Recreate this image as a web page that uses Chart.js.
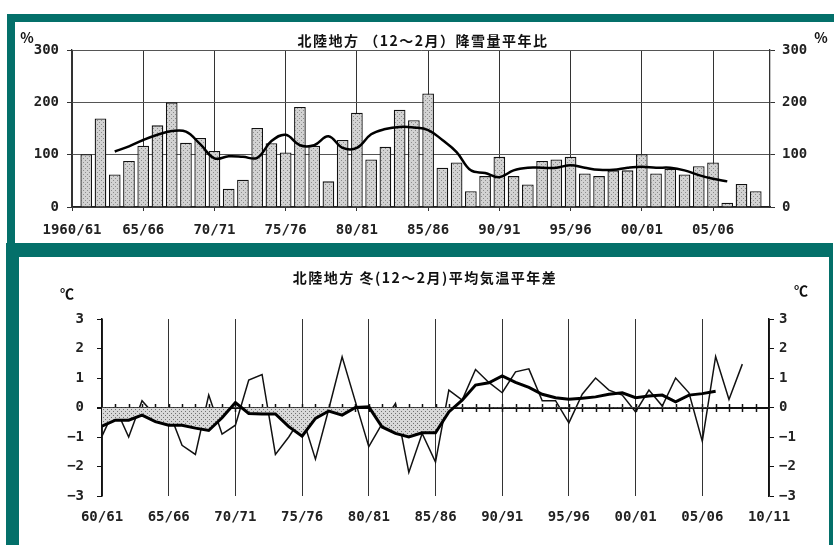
<!DOCTYPE html>
<html lang="ja">
<head>
<meta charset="utf-8">
<title>北陸地方 降雪量平年比・冬平均気温平年差</title>
<script src="https://cdn.jsdelivr.net/npm/chart.js@4.4.1/dist/chart.umd.min.js"></script>
<style>
  html, body { margin: 0; padding: 0; background: #fff; }
  body { width: 834px; height: 545px; position: relative; overflow: hidden; }
  .band { position: absolute; background: #04706a; }
  canvas { position: absolute; }
</style>
</head>
<body>
<div class="band" style="left:7px;top:14px;width:827px;height:8px"></div>
<div class="band" style="left:7px;top:14px;width:8px;height:243px"></div>
<div class="band" style="left:6px;top:243px;width:827px;height:14px"></div>
<div class="band" style="left:6px;top:243px;width:13px;height:302px"></div>
<div class="band" style="left:829px;top:243px;width:4px;height:302px"></div>
<canvas id="snowChart" width="819" height="221" style="left:15px;top:22px"></canvas>
<canvas id="tempChart" width="810" height="288" style="left:19px;top:257px"></canvas>
<script>
// 降雪量平年比 (%), 1961/62 冬から
const snowFirstYear = 1961;
const snowRatio = [101, 169, 62, 88, 117, 156, 200, 123, 132, 107,
  35, 52, 151, 122, 104, 191, 117, 49, 128, 180,
  91, 115, 186, 166, 217, 75, 85, 30, 59, 96,
  59, 43, 88, 91, 96, 64, 59, 70, 70, 101,
  64, 73, 62, 78, 85, 8, 44, 30];
// 5年移動平均
const snowAvgFirstYear = 1963;
const snowAvg = [106, 116, 128, 138, 145, 144, 120, 93, 97, 96,
  94, 126, 138, 118, 118, 135, 113, 113, 139, 149,
  153, 152, 147, 128, 105, 70, 65, 57, 70, 75,
  75, 75, 80, 75, 71, 71, 75, 77, 75, 75,
  70, 61, 54, 49];
const snowAxisFrom = 1960;
const snowAxisTo = 2009;
const snowTickLabels = ['1960/61', '65/66', '70/71', '75/76', '80/81', '85/86', '90/91', '95/96', '00/01', '05/06'];

// 冬平均気温平年差 (℃), 1960/61 冬から
const tempFirstYear = 1960;
const tempDiff = [-0.97, 0.0, -1.0, 0.23, -0.28, -0.11, -1.28, -1.59, 0.42, -0.9,
  -0.6, 0.93, 1.12, -1.59, -1.0, -0.3, -1.75, -0.05, 1.72, 0.19,
  -1.33, -0.55, 0.14, -2.2, -0.88, -1.85, 0.59, 0.25, 1.29, 0.85,
  0.5, 1.21, 1.31, 0.23, 0.23, -0.52, 0.45, 1.0, 0.59, 0.42,
  -0.15, 0.59, 0.05, 1.0, 0.5, -1.14, 1.73, 0.27, 1.47];
// 5年移動平均
const tempAvg = [-0.63, -0.43, -0.43, -0.26, -0.48, -0.6, -0.6, -0.7, -0.78, -0.35,
  0.17, -0.2, -0.22, -0.22, -0.65, -0.97, -0.37, -0.12, -0.26, 0.0,
  0.02, -0.66, -0.88, -1.0, -0.86, -0.86, -0.15, 0.25, 0.76, 0.84,
  1.07, 0.85, 0.68, 0.45, 0.33, 0.28, 0.31, 0.36, 0.45, 0.5,
  0.33, 0.39, 0.42, 0.19, 0.42, 0.47, 0.55];
const tempAxisFrom = 1960;
const tempAxisTo = 2010;
const tempTickLabels = ['60/61', '65/66', '70/71', '75/76', '80/81', '85/86', '90/91', '95/96', '00/01', '05/06', '10/11'];

Chart.defaults.font.family = '"DejaVu Sans Mono", monospace';
Chart.defaults.font.size = 14;
Chart.defaults.font.weight = 'bold';
Chart.defaults.color = '#222';

function toPoints(first, values) {
    return values.map((v, i) => ({ x: first + i, y: v }));
}

// dotted grey fill like the original
function stipple(canvasId, base, dot) {
    const c = document.createElement('canvas');
    c.width = 4;
    c.height = 4;
    const g = c.getContext('2d');
    g.fillStyle = base;
    g.fillRect(0, 0, 4, 4);
    g.fillStyle = dot;
    g.fillRect(0, 0, 1, 1);
    g.fillRect(2, 2, 1, 1);
    return document.getElementById(canvasId).getContext('2d').createPattern(c, 'repeat');
}

const minus = v => (v < 0 ? '\u2212' + Math.abs(v) : String(v));

// titles and unit marks
const captions = {
    id: 'captions',
    afterDraw(chart, args, opts) {
        const ctx = chart.ctx;
        ctx.save();
        ctx.fillStyle = '#111';
        ctx.textAlign = 'center';
        ctx.textBaseline = 'middle';
        opts.items.forEach(t => {
            ctx.font = t.font;
            ctx.letterSpacing = t.spacing || '0px';
            ctx.fillText(t.text, t.x, t.y);
        });
        ctx.restore();
    }
};

// small yearly ticks across the zero line
const yearTicks = {
    id: 'yearTicks',
    beforeDatasetsDraw(chart) {
        const xs = chart.scales.x;
        const y0 = Math.round(chart.scales.y.getPixelForValue(0));
        const ctx = chart.ctx;
        ctx.save();
        ctx.strokeStyle = '#111';
        ctx.lineWidth = 1.5;
        ctx.beginPath();
        for (let yr = tempAxisFrom + 1; yr < tempAxisTo; yr++) {
            const px = Math.round(xs.getPixelForValue(yr)) + 0.5;
            ctx.moveTo(px, y0 - 4);
            ctx.lineTo(px, y0 + 4);
        }
        ctx.stroke();
        ctx.restore();
    }
};

const titleFont = 'bold 14px "Noto Sans CJK JP", sans-serif';
const unitFont = 'bold 14px "Noto Sans CJK JP", sans-serif';

// 降雪量
new Chart(document.getElementById('snowChart'), {
    type: 'bar',
    data: {
        datasets: [
            {
                type: 'line',
                data: toPoints(snowAvgFirstYear, snowAvg),
                borderColor: '#000',
                borderWidth: 2.5,
                tension: 0.4,
                pointRadius: 0,
                fill: false,
                order: 0,
                yAxisID: 'y'
            },
            {
                data: toPoints(snowFirstYear, snowRatio),
                backgroundColor: stipple('snowChart', '#d2d2d2', '#8c8c8c'),
                borderColor: '#111',
                borderWidth: 1.3,
                barPercentage: 0.82,
                categoryPercentage: 1,
                order: 1,
                yAxisID: 'y'
            }
        ]
    },
    options: {
        responsive: false,
        animation: false,
        devicePixelRatio: 1,
        layout: { padding: { top: 28, left: 0, right: 0, bottom: 0 } },
        plugins: {
            legend: { display: false },
            tooltip: { enabled: false },
            captions: {
                items: [
                    { text: '北陸地方 （12～2月）降雪量平年比', x: 408, y: 19, font: titleFont, spacing: '1.5px' },
                    { text: '%', x: 12, y: 16, font: unitFont },
                    { text: '%', x: 806, y: 16, font: unitFont }
                ]
            }
        },
        scales: {
            x: {
                type: 'linear',
                offset: false,
                min: snowAxisFrom,
                max: snowAxisTo,
                afterBuildTicks: scale => {
                    scale.ticks = snowTickLabels.map((_, i) => ({ value: snowAxisFrom + 5 * i }));
                },
                afterFit: scale => { scale.height = 36; },
                grid: { offset: false, color: '#333', lineWidth: 1, tickLength: 4 },
                border: { color: '#222', width: 1.5 },
                ticks: {
                    padding: 11,
                    maxRotation: 0,
                    autoSkip: false,
                    callback: (value, index) => snowTickLabels[index] || ''
                }
            },
            y: {
                position: 'left',
                min: 0,
                max: 300,
                afterFit: scale => { scale.width = 57; },
                grid: { color: '#555', lineWidth: 1, tickLength: 5, tickColor: '#333' },
                border: { color: '#333', width: 1.3 },
                ticks: { stepSize: 100, padding: 8 }
            },
            y2: {
                position: 'right',
                min: 0,
                max: 300,
                afterFit: scale => { scale.width = 64; },
                grid: { drawOnChartArea: false, tickLength: 5, tickColor: '#333' },
                border: { color: '#333', width: 1.3 },
                ticks: { stepSize: 100, padding: 7 }
            }
        }
    },
    plugins: [captions]
});

// 気温
new Chart(document.getElementById('tempChart'), {
    type: 'line',
    data: {
        datasets: [
            {
                data: toPoints(tempFirstYear, tempAvg),
                borderColor: '#000',
                borderWidth: 3,
                tension: 0,
                pointRadius: 0,
                fill: {
                    target: { value: 0 },
                    above: 'rgba(0,0,0,0)',
                    below: stipple('tempChart', '#d8d8d8', '#707070')
                },
                order: 0
            },
            {
                data: toPoints(tempFirstYear, tempDiff),
                borderColor: '#111',
                borderWidth: 1.5,
                tension: 0,
                pointRadius: 0,
                fill: false,
                order: 1
            }
        ]
    },
    options: {
        responsive: false,
        animation: false,
        devicePixelRatio: 1,
        layout: { padding: { top: 62, left: 0, right: 0, bottom: 0 } },
        plugins: {
            legend: { display: false },
            tooltip: { enabled: false },
            captions: {
                items: [
                    { text: '北陸地方 冬(12～2月)平均気温平年差', x: 406, y: 21, font: titleFont, spacing: '1.5px' },
                    { text: '℃', x: 48, y: 37, font: unitFont },
                    { text: '℃', x: 782, y: 34, font: unitFont }
                ]
            }
        },
        scales: {
            x: {
                type: 'linear',
                min: tempAxisFrom,
                max: tempAxisTo,
                afterBuildTicks: scale => {
                    scale.ticks = tempTickLabels.map((_, i) => ({ value: tempAxisFrom + 5 * i }));
                },
                afterFit: scale => { scale.height = 49; },
                grid: { color: '#333', lineWidth: 1, drawTicks: false },
                border: { display: false },
                ticks: {
                    padding: 13,
                    maxRotation: 0,
                    autoSkip: false,
                    callback: (value, index) => tempTickLabels[index] || ''
                }
            },
            y: {
                position: 'left',
                min: -3,
                max: 3,
                afterFit: scale => { scale.width = 83; },
                grid: {
                    color: c => (c.tick.value === 0 ? '#111' : 'rgba(0,0,0,0)'),
                    lineWidth: c => (c.tick.value === 0 ? 2 : 1),
                    tickLength: 5,
                    tickColor: '#111'
                },
                border: { color: '#111', width: 1.5 },
                ticks: { stepSize: 1, padding: 13, callback: minus }
            },
            y2: {
                position: 'right',
                min: -3,
                max: 3,
                afterFit: scale => { scale.width = 60; },
                grid: { drawOnChartArea: false, tickLength: 5, tickColor: '#111' },
                border: { color: '#111', width: 1.5 },
                ticks: { stepSize: 1, padding: 5, callback: minus }
            }
        }
    },
    plugins: [captions, yearTicks]
});
</script>
</body>
</html>
